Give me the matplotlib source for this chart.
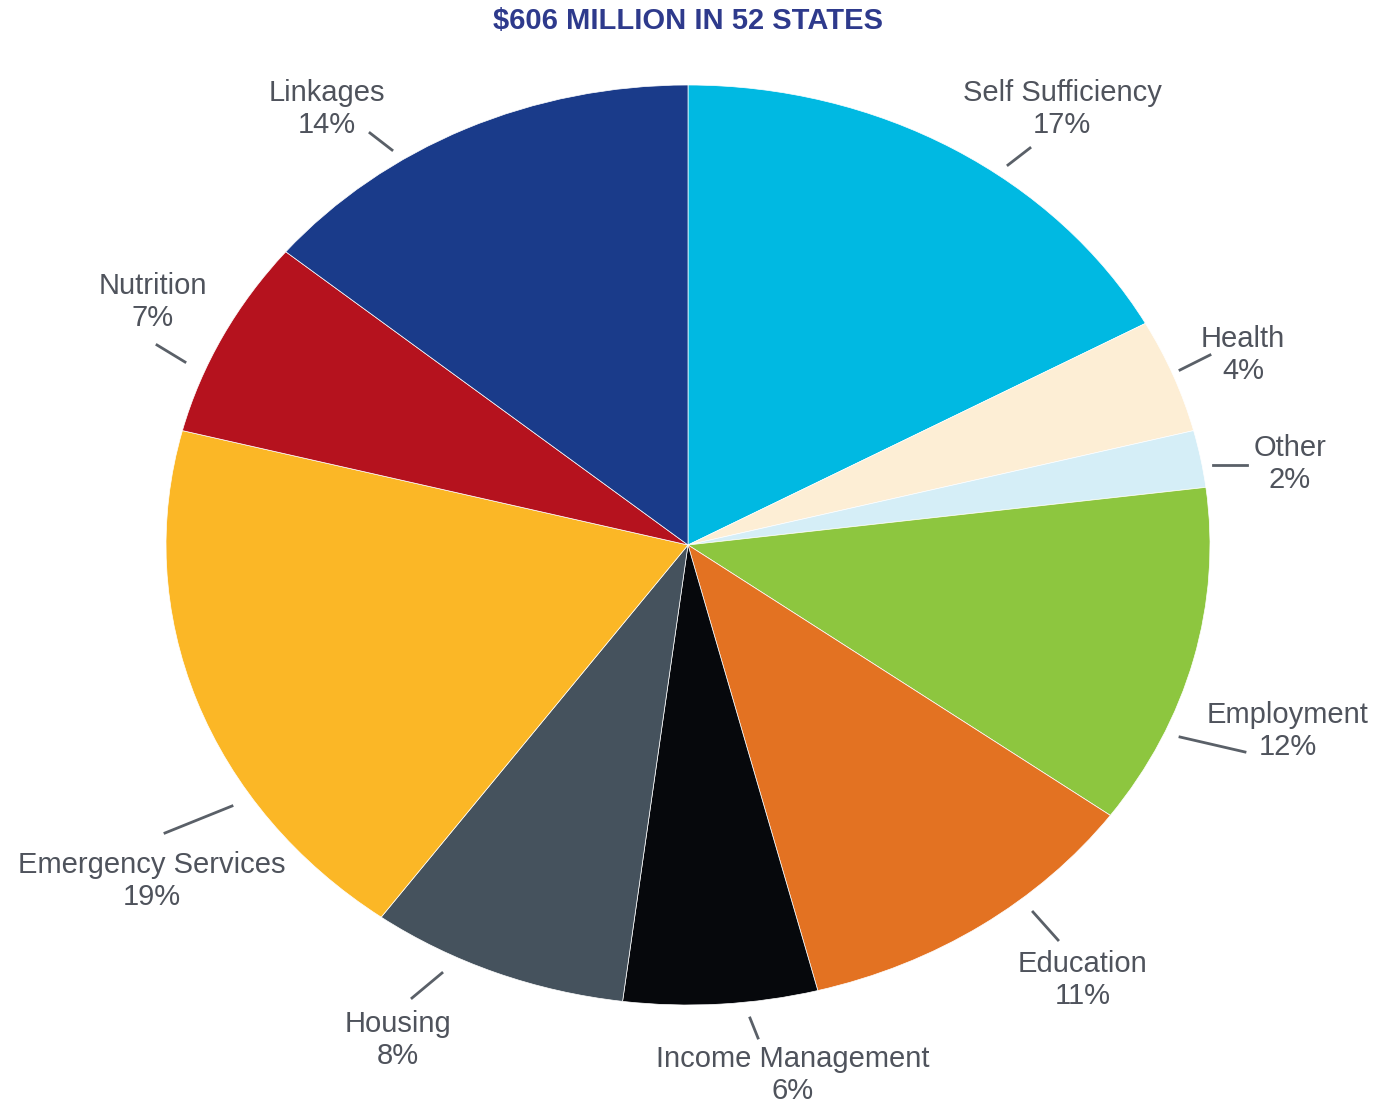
import matplotlib.pyplot as plt

categories = ['Self Sufficiency', 'Health', 'Other', 'Employment', 'Education',
              'Income Management', 'Housing', 'Emergency Services', 'Nutrition', 'Linkages']
shares = [17, 4, 2, 12, 11, 6, 8, 19, 7, 14]
colors = ['#00b9e2', '#fdeed5', '#d5eef7', '#8dc63f', '#e37222',
          '#06080c', '#45525d', '#fbb726', '#b5121e', '#1a3b8a']
title = '$606 MILLION IN 52 STATES'

# label layout in image pixels: text centre, leader line start/end
label_pos = [(1062, 109), (1243, 355), (1290, 464), (1288, 731), (1083, 980),
             (793, 1075), (398, 1040), (152, 881), (153, 302), (327, 109)]
leader = [((1008, 165), (1030, 148)), ((1180, 370), (1210, 355)),
          ((1213, 465), (1247, 465)), ((1180, 737), (1245, 752)),
          ((1033, 912), (1058, 940)), ((750, 1018), (758, 1038)),
          ((442, 973), (412, 998)), ((232, 806), (165, 833)),
          ((185, 362), (157, 345)), ((392, 150), (370, 133))]

CX, CY, RX, RY = 688, 545, 522, 460


def to_data(p):
    return (p[0] - CX) / RX, (CY - p[1]) / RY


fig = plt.figure(figsize=(13.79, 11.06), dpi=100)
ax = fig.add_axes([0, 0, 1, 1])
ax.pie(shares, colors=colors, startangle=90, counterclock=False,
       wedgeprops=dict(edgecolor='white', linewidth=0.5))
ax.set_aspect('auto')
ax.set_xlim(-CX / RX, (1379 - CX) / RX)
ax.set_ylim((CY - 1106) / RY, CY / RY)
ax.axis('off')

for name, pct, pos, (a, b) in zip(categories, shares, label_pos, leader):
    x, y = to_data(pos)
    ax.text(x, y, f'{name}\n{pct}%', ha='center', va='center', fontsize=21,
            family='Liberation Sans', color='#4f535c', linespacing=1.2)
    (x1, y1), (x2, y2) = to_data(a), to_data(b)
    ax.plot([x1, x2], [y1, y2], color='#5a6068', lw=2)

tx, ty = to_data((688, 21))
ax.text(tx, ty, title, ha='center', va='center', fontsize=21, fontweight='bold',
        family='Liberation Sans', color='#2e3a8c')

plt.savefig('out.png', dpi=100)
